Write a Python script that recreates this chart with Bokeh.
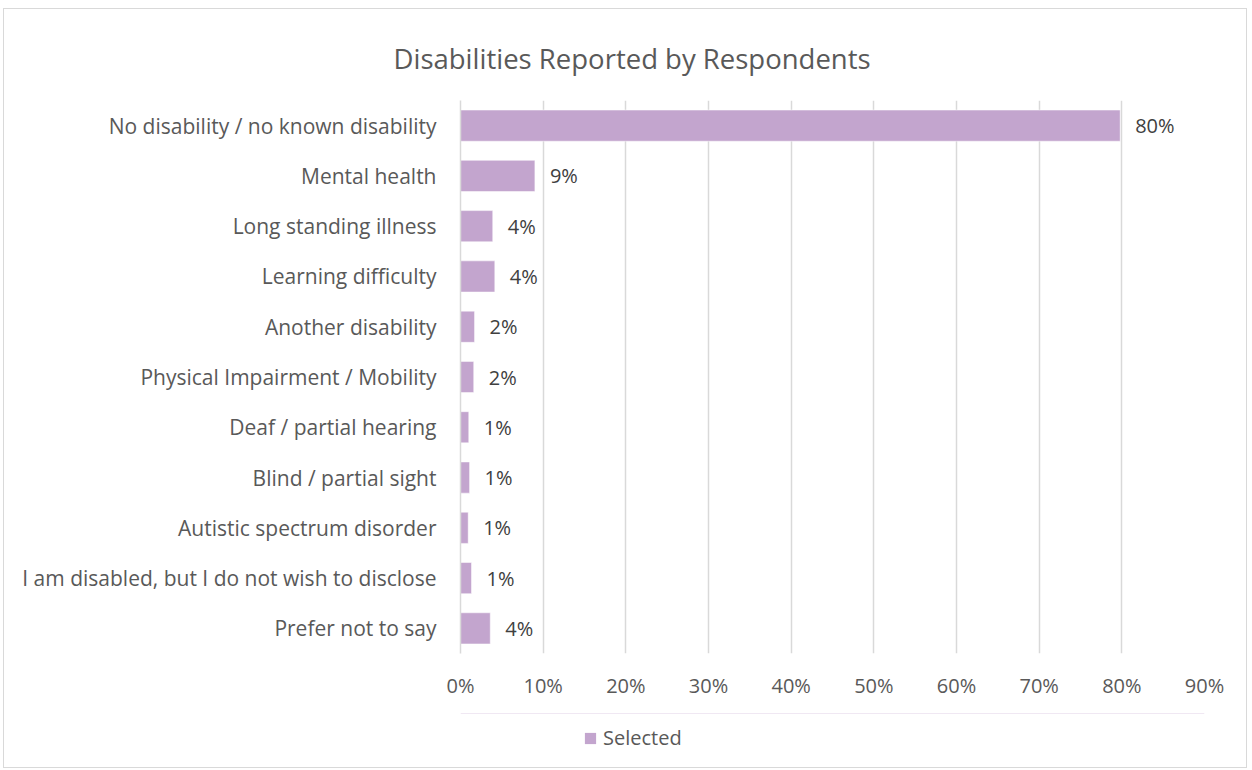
from bokeh.plotting import figure
from bokeh.layouts import column
from bokeh.models import (ColumnDataSource, FactorRange, Range1d, Legend, LegendItem,
                          NumeralTickFormatter, FixedTicker, Title)
from bokeh.embed import file_html
from bokeh.resources import INLINE
from bokeh.core.properties import value

# ---- data ----
categories = [
    "No disability / no known disability",
    "Mental health",
    "Long standing illness",
    "Learning difficulty",
    "Another disability",
    "Physical Impairment / Mobility",
    "Deaf / partial hearing",
    "Blind / partial sight",
    "Autistic spectrum disorder",
    "I am disabled, but I do not wish to disclose",
    "Prefer not to say",
]
selected_pct = [79.8, 9.0, 3.9, 4.15, 1.7, 1.6, 1.0, 1.1, 0.93, 1.33, 3.6]
x_ticks = [0, 0.1, 0.2, 0.3, 0.4, 0.5, 0.6, 0.7, 0.8, 0.9]
series_name = "Selected"
chart_title = "Disabilities Reported by Respondents"

FONT = "Open Sans"
BAR = "#C3A5CE"
GRID = "#D9D9D9"
TXT = "#595959"

src = ColumnDataSource(dict(
    cat=categories,
    val=[v / 100 for v in selected_pct],
    lab=[f"{round(v)}%" for v in selected_pct],
))

p = figure(
    y_range=FactorRange(*reversed(categories), range_padding=0),
    x_range=Range1d(0, 0.9),
    width=1242, height=704,
    min_border_left=456, min_border_right=42, min_border_top=91, min_border_bottom=60,
    output_backend="svg", toolbar_location=None,
)

r = p.hbar(y="cat", right="val", left=0, height=0.62, source=src,
           fill_color=BAR, line_color="white", line_width=0.5)

p.text(x="val", y="cat", text="lab", source=src, x_offset=15,
       text_align="left", text_baseline="middle",
       text_font=value(FONT), text_font_size="20px", text_color="#404040")

t = Title(text=chart_title, align="left", offset=-67, standoff=48,
          text_font=FONT, text_font_size="27.5px", text_font_style="normal",
          text_color=TXT)
p.add_layout(t, "above")

# axes
xa = p.xaxis[0]
xa.ticker = FixedTicker(ticks=x_ticks)
xa.formatter = NumeralTickFormatter(format="0%")
xa.axis_line_color = None
xa.major_tick_line_color = None
xa.minor_tick_line_color = None
xa.major_label_text_font = FONT
xa.major_label_text_font_size = "20px"
xa.major_label_text_color = TXT
xa.major_label_standoff = 12

ya = p.yaxis[0]
ya.axis_line_color = GRID
ya.axis_line_width = 1.5
ya.major_tick_line_color = None
ya.minor_tick_line_color = None
ya.major_label_text_font = FONT
ya.major_label_text_font_size = "21px"
ya.major_label_text_color = TXT
ya.major_label_standoff = 18

p.xgrid.grid_line_color = GRID
p.xgrid.grid_line_width = 1.5
p.ygrid.grid_line_color = None
p.outline_line_color = None

# legend strip below the chart (proxy renderer sits outside the visible range)
lf = figure(width=1242, height=54, x_range=Range1d(0, 1), y_range=Range1d(0, 1),
            x_axis_location=None, y_axis_location=None, min_border=0,
            output_backend="svg", toolbar_location=None)
lf.xgrid.grid_line_color = None
lf.ygrid.grid_line_color = None
lf.outline_line_color = None
proxy = lf.hbar(y=[5], right=[1], left=0, height=0.5, fill_color=BAR, line_color=None)

legend = Legend(items=[LegendItem(label=series_name, renderers=[proxy])],
                orientation="horizontal", location=(123, 16),
                label_text_font=FONT, label_text_font_size="20px",
                label_text_color=TXT, glyph_width=14, glyph_height=14,
                border_line_color=None, background_fill_alpha=0,
                margin=0, padding=5, spacing=6, label_standoff=6)
lf.add_layout(legend, "center")

layout = column(p, lf, spacing=0)
layout.styles = {"border": "1px solid #D9D9D9", "margin-left": "3px", "margin-top": "8px"}

open("out.html", "w").write(file_html(layout, INLINE))
